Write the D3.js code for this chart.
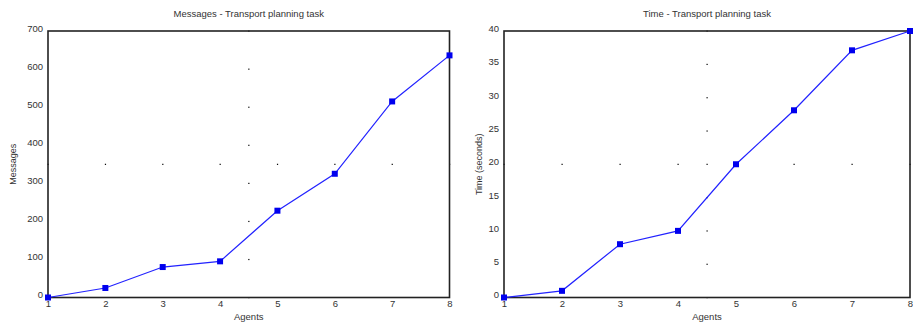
<!DOCTYPE html>
<html>
<head>
<meta charset="utf-8">
<script src="https://cdn.jsdelivr.net/npm/d3@7"></script>
<style>
  body { margin: 0; background: #fff; }
  svg { display: block; font-family: "Liberation Sans", Arial, sans-serif; }
</style>
</head>
<body>
<svg width="913" height="322"></svg>
<script>
// Data
const agents = [1, 2, 3, 4, 5, 6, 7, 8];
const messages = [0, 25, 80, 95, 228, 325, 515, 636];
const timeSeconds = [0, 1, 8, 10, 20, 28.1, 37.1, 40];
const messageTicks = [0, 100, 200, 300, 400, 500, 600, 700];
const timeTicks = [0, 5, 10, 15, 20, 25, 30, 35, 40];

const svg = d3.select("svg");

function drawPanel(opts) {
    const { left, right, top, bottom, values, yTicks, yMax, title, yLabel } = opts;
    const g = svg.append("g");

    const x = d3.scaleLinear().domain([1, 8]).range([left, right]);
    const y = d3.scaleLinear().domain([0, yMax]).range([bottom, top]);

    // Title
    g.append("text")
        .attr("x", (left + right) / 2)
        .attr("y", 17)
        .attr("text-anchor", "middle")
        .attr("font-size", "9.5px")
        .attr("fill", "#333")
        .text(title);

    // Y axis
    const yAxis = g.append("g")
        .attr("transform", `translate(${left},0)`)
        .call(d3.axisLeft(y).tickValues(yTicks).tickSize(0).tickPadding(5));
    yAxis.select(".domain").remove();
    yAxis.selectAll("text")
        .attr("font-size", "9.5px")
        .attr("fill", "#333")
        .attr("dy", "0.05em")
        .style("font-family", "Liberation Sans, Arial, sans-serif");

    // X axis
    const xAxis = g.append("g")
        .attr("transform", `translate(0,${bottom})`)
        .call(d3.axisBottom(x).tickValues(agents).tickFormat(d3.format("d")).tickSize(0).tickPadding(3));
    xAxis.select(".domain").remove();
    xAxis.selectAll("text")
        .attr("font-size", "9.5px")
        .attr("fill", "#333")
        .style("font-family", "Liberation Sans, Arial, sans-serif");

    // Axis titles
    g.append("text")
        .attr("x", (left + right) / 2)
        .attr("y", 320)
        .attr("text-anchor", "middle")
        .attr("font-size", "9.5px")
        .attr("fill", "#333")
        .text("Agents");

    g.append("text")
        .attr("transform", `translate(${opts.yLabelX},${(top + bottom) / 2}) rotate(-90)`)
        .attr("text-anchor", "middle")
        .attr("font-size", "9px")
        .attr("fill", "#333")
        .text(yLabel);

    // Middle cross axis dots
    const midX = x(4.5);
    const midY = y(yMax / 2);
    g.append("g").selectAll("rect")
        .data(yTicks)
        .join("rect")
        .attr("x", midX - 0.5)
        .attr("y", d => y(d) - 0.5)
        .attr("width", 1.2)
        .attr("height", 1.2)
        .attr("fill", "#000");
    g.append("g").selectAll("rect")
        .data(agents)
        .join("rect")
        .attr("x", d => x(d) - 0.5)
        .attr("y", midY - 0.5)
        .attr("width", 1.2)
        .attr("height", 1.2)
        .attr("fill", "#000");

    // Frame
    g.append("rect")
        .attr("x", left)
        .attr("y", top)
        .attr("width", right - left)
        .attr("height", bottom - top)
        .attr("fill", "none")
        .attr("stroke", "#222")
        .attr("stroke-width", 1.6);

    // Line
    const pts = agents.map((a, i) => [a, values[i]]);
    g.append("path")
        .datum(pts)
        .attr("fill", "none")
        .attr("stroke", "#2222ff")
        .attr("stroke-width", 1.2)
        .attr("d", d3.line().x(d => x(d[0])).y(d => y(d[1])));

    // Square markers
    g.append("g").selectAll("rect")
        .data(pts)
        .join("rect")
        .attr("x", d => x(d[0]) - 3)
        .attr("y", d => y(d[1]) - 3)
        .attr("width", 6)
        .attr("height", 6)
        .attr("fill", "#0000ee");
}

drawPanel({
    left: 48, right: 449.5, top: 31, bottom: 297.5,
    values: messages, yTicks: messageTicks, yMax: 700,
    title: "Messages - Transport planning task",
    yLabel: "Messages", yLabelX: 16
});

drawPanel({
    left: 504, right: 910, top: 31, bottom: 297.5,
    values: timeSeconds, yTicks: timeTicks, yMax: 40,
    title: "Time - Transport planning task",
    yLabel: "Time (seconds)", yLabelX: 482
});
</script>
</body>
</html>
